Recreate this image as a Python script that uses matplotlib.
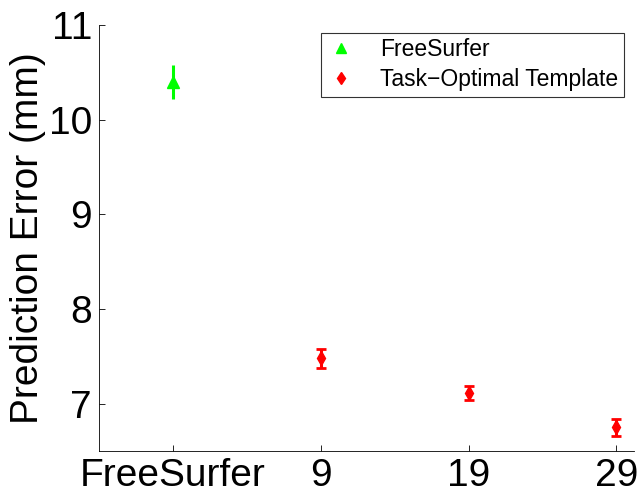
import matplotlib
matplotlib.use("Agg")
import matplotlib.pyplot as plt

plt.rcParams['font.family'] = ['Liberation Sans', 'DejaVu Sans']

# values
fs_x = [1]
fs_mean = [10.40]
fs_err = [0.18]

opt_x = [2, 3, 4]
opt_mean = [7.48, 7.11, 6.75]
opt_err = [0.10, 0.075, 0.09]

tick_pos = [1, 2, 3, 4]
tick_labels = ['FreeSurfer', '9', '19', '29']

fig = plt.figure(figsize=(6.41, 4.98), dpi=100)
ax = fig.add_axes([0.1544, 0.0944, 0.835, 0.8554])

ax.errorbar(fs_x, fs_mean, yerr=fs_err, fmt='none', ecolor=(0, 1, 0),
            elinewidth=2.2, capsize=0)
ax.plot(fs_x, fs_mean, '^', color=(0, 1, 0), markersize=8, label='FreeSurfer')
ax.errorbar(opt_x, opt_mean, yerr=opt_err, fmt='none', ecolor=(1, 0, 0),
            elinewidth=2.2, capsize=3.5, capthick=2)
ax.plot(opt_x, opt_mean, 'd', color=(1, 0, 0), markersize=7,
        label='Task\u2212Optimal Template')

ax.set_xlim(0.5, 4.12)
ax.set_ylim(6.5, 11)
ax.set_xticks(tick_pos)
ax.set_xticklabels(tick_labels)
ax.set_yticks([7, 8, 9, 10, 11])
ax.tick_params(direction='in', length=4, labelsize=28, width=0.6, pad=5)
ax.set_ylabel('Prediction Error (mm)', fontsize=28, labelpad=2)

for s in ['top', 'right']:
    ax.spines[s].set_visible(False)
for s in ['left', 'bottom']:
    ax.spines[s].set_linewidth(0.6)

leg = ax.legend(loc='upper right', bbox_to_anchor=(0.98, 0.982), fontsize=16.5,
                frameon=True, fancybox=False, handlelength=1.2,
                handletextpad=1.1, borderpad=0.25, labelspacing=0.3,
                borderaxespad=0, numpoints=1, markerscale=0.9)
leg.get_frame().set_edgecolor('black')
leg.get_frame().set_linewidth(0.8)

fig.savefig('out.png', dpi=100)
